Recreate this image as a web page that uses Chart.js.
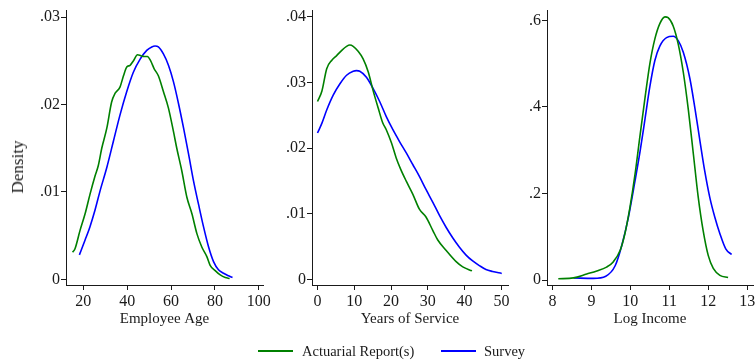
<!DOCTYPE html>
<html>
<head>
<meta charset="utf-8">
<script src="https://cdn.jsdelivr.net/npm/chart.js@4/dist/chart.umd.min.js"></script>
<style>
  html, body { margin: 0; padding: 0; background: #fff; }
  body { width: 756px; height: 360px; position: relative; overflow: hidden; font-family: "Liberation Serif", "Times New Roman", serif; color: #1a1a1a; }
  canvas { position: absolute; top: 0; }
  #ytitle { position: absolute; left: 17.5px; top: 167px; transform: translate(-50%, -50%) rotate(-90deg); font-size: 17px; white-space: nowrap; }
  #legend { position: absolute; top: 342px; left: 0; width: 756px; height: 18px; font-size: 14.5px; }
  .sw { position: absolute; top: 8px; height: 2px; width: 35px; }
  .lt { position: absolute; top: 0; line-height: 18px; white-space: nowrap; }
</style>
</head>
<body>
<canvas id="c1" style="left:0px" width="290" height="335"></canvas>
<canvas id="c2" style="left:265px" width="265" height="335"></canvas>
<canvas id="c3" style="left:505px" width="260" height="335"></canvas>
<div id="ytitle">Density</div>
<div id="legend">
  <div class="sw" style="left:258px;background:#008000"></div>
  <div class="lt" style="left:302px">Actuarial Report(s)</div>
  <div class="sw" style="left:441px;background:#0000ff"></div>
  <div class="lt" style="left:484px">Survey</div>
</div>
<script>
// Series names
const seriesNames = ['Actuarial Report(s)', 'Survey'];

// Employee age densities
const ageActX = [15.1, 16.2, 18.5, 20.8, 23.0, 25.3, 26.8, 28.4, 30.7, 32.9, 34.5, 36.7, 38.3, 39.8, 41.3, 42.8, 44.7, 46.2, 47.7, 49.2, 50.7, 52.3, 54.2, 56.5, 58.8, 61.1, 62.6, 64.9, 67.2, 69.5, 71.8, 74.0, 76.3, 77.8, 80.1, 82.4, 84.7, 86.7];
const ageActY = [0.0031, 0.0035, 0.0056, 0.0075, 0.0097, 0.0118, 0.0130, 0.0150, 0.0173, 0.0203, 0.0213, 0.0220, 0.0233, 0.0243, 0.0245, 0.0250, 0.0257, 0.0256, 0.0255, 0.0255, 0.0250, 0.0241, 0.0233, 0.0215, 0.0196, 0.0169, 0.0150, 0.0124, 0.0094, 0.0075, 0.0052, 0.0037, 0.0026, 0.0016, 0.0010, 0.0005, 0.0002, 0.0001];
const ageSurX = [18.2, 20.8, 23.0, 25.3, 27.6, 30.7, 33.7, 36.7, 39.8, 42.8, 45.9, 48.9, 51.2, 52.7, 54.2, 56.5, 58.8, 61.1, 63.4, 65.7, 68.0, 70.2, 72.5, 74.8, 77.1, 79.4, 81.6, 83.9, 86.2, 88.0];
const ageSurY = [0.0028, 0.0045, 0.0060, 0.0079, 0.0101, 0.0128, 0.0158, 0.0188, 0.0215, 0.0237, 0.0252, 0.0262, 0.0266, 0.0267, 0.0266, 0.0258, 0.0245, 0.0226, 0.0201, 0.0173, 0.0143, 0.0113, 0.0086, 0.0060, 0.0037, 0.0020, 0.0011, 0.0007, 0.0004, 0.0002];

// Years of service densities
const yosActX = [0, 1.2, 2.5, 3.9, 5.2, 6.6, 7.9, 8.8, 9.7, 11.1, 12.4, 13.8, 15.1, 16.5, 17.7, 18.7, 20.1, 21.4, 22.6, 24.1, 25.9, 27.7, 29.5, 31.4, 32.7, 35.0, 37.7, 39.5, 42.0];
const yosActY = [0.0271, 0.0287, 0.0321, 0.0334, 0.0341, 0.0349, 0.0355, 0.0357, 0.0355, 0.0347, 0.0336, 0.0316, 0.0288, 0.0261, 0.0239, 0.0228, 0.0208, 0.0185, 0.0168, 0.0150, 0.0130, 0.0107, 0.0095, 0.0074, 0.0060, 0.0044, 0.0027, 0.0019, 0.0013];
const yosSurX = [0, 1.2, 2.5, 4.3, 6.1, 7.9, 9.7, 10.6, 11.5, 13.3, 15.1, 16.9, 18.7, 20.5, 22.3, 24.1, 25.9, 27.7, 29.5, 31.4, 33.2, 35.0, 36.8, 38.6, 40.4, 42.2, 44.0, 45.8, 47.6, 50.1];
const yosSurY = [0.0223, 0.0238, 0.0258, 0.0281, 0.0298, 0.0311, 0.0317, 0.0318, 0.0317, 0.0308, 0.0291, 0.0271, 0.0248, 0.0228, 0.0210, 0.0193, 0.0175, 0.0157, 0.0137, 0.0117, 0.0097, 0.0079, 0.0063, 0.0049, 0.0037, 0.0028, 0.0021, 0.0015, 0.0012, 0.0009];

// Log income densities
const incActX = [8.15, 8.54, 8.88, 9.14, 9.39, 9.56, 9.74, 9.86, 9.99, 10.12, 10.25, 10.38, 10.50, 10.63, 10.76, 10.89, 10.97, 11.10, 11.23, 11.36, 11.49, 11.62, 11.74, 11.87, 12.00, 12.13, 12.30, 12.51];
const incActY = [0.003, 0.005, 0.014, 0.021, 0.030, 0.042, 0.069, 0.107, 0.168, 0.244, 0.335, 0.423, 0.499, 0.557, 0.593, 0.608, 0.606, 0.587, 0.545, 0.480, 0.393, 0.290, 0.194, 0.114, 0.057, 0.027, 0.011, 0.006];
const incSurX = [8.54, 9.05, 9.37, 9.61, 9.78, 9.95, 10.12, 10.25, 10.38, 10.50, 10.63, 10.76, 10.93, 11.10, 11.23, 11.36, 11.53, 11.66, 11.79, 11.91, 12.04, 12.17, 12.30, 12.45, 12.60];
const incSurY = [0.005, 0.004, 0.009, 0.033, 0.080, 0.145, 0.229, 0.297, 0.374, 0.446, 0.507, 0.541, 0.560, 0.563, 0.553, 0.526, 0.465, 0.396, 0.320, 0.252, 0.191, 0.145, 0.107, 0.072, 0.059];

// Axis ticks and labels
const ageTicks = [20, 40, 60, 80, 100];
const yosTicks = [0, 10, 20, 30, 40, 50];
const incTicks = [8, 9, 10, 11, 12, 13];
const ageDensTicks = [0, 0.01, 0.02, 0.03];
const ageDensLabels = ['0', '.01', '.02', '.03'];
const yosDensTicks = [0, 0.01, 0.02, 0.03, 0.04];
const yosDensLabels = ['0', '.01', '.02', '.03', '.04'];
const incDensTicks = [0, 0.2, 0.4, 0.6];
const incDensLabels = ['0', '.2', '.4', '.6'];
const xTitles = ['Employee Age', 'Years of Service', 'Log Income'];

const GREEN = '#008000';
const BLUE = '#0000ff';
const INK = '#1a1a1a';
const FAMILY = '"Liberation Serif", "Times New Roman", serif';
const TICK_FONT = { family: FAMILY, size: 16 };
const TITLE_FONT = { family: FAMILY, size: 15 };

const zip = (xs, ys) => xs.map((x, i) => ({ x, y: ys[i] }));

function panel(id, cfg) {
  const canvasH = 335;
  const plotBottom = 285;
  new Chart(document.getElementById(id), {
    type: 'line',
    data: {
      datasets: [
        { label: seriesNames[0], data: zip(cfg.ax, cfg.ay), borderColor: GREEN },
        { label: seriesNames[1], data: zip(cfg.sx, cfg.sy), borderColor: BLUE }
      ]
    },
    options: {
      responsive: false,
      animation: false,
      events: [],
      layout: { padding: { top: 8, right: cfg.padRight, left: 0, bottom: 0 } },
      elements: {
        point: { radius: 0 },
        line: { borderWidth: 1.6, cubicInterpolationMode: 'monotone', fill: false }
      },
      plugins: { legend: { display: false }, tooltip: { enabled: false } },
      scales: {
        x: {
          type: 'linear',
          position: 'bottom',
          min: cfg.xMin, max: cfg.xMax,
          afterBuildTicks: s => { s.ticks = cfg.xTicks.map(v => ({ value: v })); },
          afterFit: s => { s.height = canvasH - plotBottom; },
          ticks: { font: TICK_FONT, color: INK, padding: 2, maxRotation: 0, autoSkip: false, callback: v => String(v) },
          grid: { display: true, drawOnChartArea: false, drawTicks: true, tickLength: 5, color: INK, lineWidth: 1 },
          border: { display: true, color: INK, width: 1 },
          title: { display: true, text: cfg.xTitle, font: TITLE_FONT, color: INK, padding: { top: 0, bottom: 7 } }
        },
        y: {
          type: 'linear',
          position: 'left',
          min: cfg.yMin, max: cfg.yMax,
          afterBuildTicks: s => { s.ticks = cfg.yTicks.map(v => ({ value: v })); },
          afterFit: s => { s.width = cfg.yWidth; },
          ticks: {
            font: TICK_FONT, color: INK, padding: 1, autoSkip: false,
            callback: (v) => { const i = cfg.yTicks.findIndex(t => Math.abs(t - v) < 1e-9); return i >= 0 ? cfg.yLabels[i] : ''; }
          },
          grid: { display: true, drawOnChartArea: false, drawTicks: true, tickLength: 5, color: INK, lineWidth: 1 },
          border: { display: true, color: INK, width: 1 }
        }
      }
    }
  });
}

panel('c1', {
  ax: ageActX, ay: ageActY, sx: ageSurX, sy: ageSurY,
  xMin: 12.1, xMax: 101.9, xTicks: ageTicks, xTitle: xTitles[0],
  yMin: -0.00065, yMax: 0.03076, yTicks: ageDensTicks, yLabels: ageDensLabels,
  yWidth: 66, padRight: 27
});
panel('c2', {
  ax: yosActX, ay: yosActY, sx: yosSurX, sy: yosSurY,
  xMin: -1.5, xMax: 51.8, xTicks: yosTicks, xTitle: xTitles[1],
  yMin: -0.00086, yMax: 0.04095, yTicks: yosDensTicks, yLabels: yosDensLabels,
  yWidth: 47, padRight: 22
});
panel('c3', {
  ax: incActX, ay: incActY, sx: incSurX, sy: incSurY,
  xMin: 7.86, xMax: 13.15, xTicks: incTicks, xTitle: xTitles[2],
  yMin: -0.0114, yMax: 0.6224, yTicks: incDensTicks, yLabels: incDensLabels,
  yWidth: 42, padRight: 12
});
</script>
</body>
</html>
